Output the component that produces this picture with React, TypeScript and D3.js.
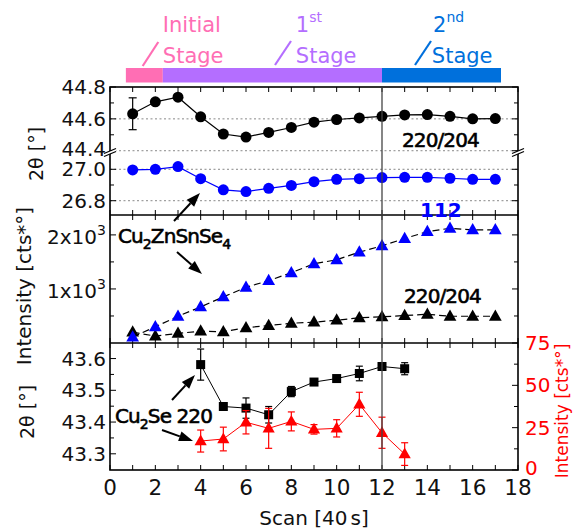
import React from "react";
import * as d3 from "d3";

// Scan index (40 s per scan)
const scans = [1, 2, 3, 4, 5, 6, 7, 8, 9, 10, 11, 12, 13, 14, 15, 16, 17];

// Cu2ZnSnSe4 220/204 reflection position 2θ [°]
const kesterite220TwoTheta = [
  44.632, 44.707, 44.736, 44.613, 44.505, 44.486, 44.515, 44.546, 44.579,
  44.596, 44.606, 44.616, 44.625, 44.627, 44.616, 44.6, 44.602,
];
const kesterite220TwoThetaErr = [
  0.1, 0, 0, 0, 0, 0, 0, 0, 0, 0, 0, 0, 0, 0, 0, 0, 0,
];
// Cu2ZnSnSe4 112 reflection position 2θ [°]
const kesterite112TwoTheta = [
  26.996, 27.0, 27.017, 26.94, 26.869, 26.858, 26.879, 26.897, 26.921,
  26.936, 26.94, 26.947, 26.949, 26.949, 26.943, 26.936, 26.936,
];
// Integrated intensities [cts*°]
const kesterite112Intensity = [
  109, 300, 495, 668, 853, 1030, 1153, 1300, 1466, 1540, 1681, 1797, 1932,
  2061, 2123, 2092, 2092,
];
const kesterite220Intensity = [
  201, 127, 177, 219, 208, 282, 324, 365, 385, 422, 466, 484, 508, 532, 495,
  495, 495,
];

// Cu2Se 220 reflection
const cu2seScans = [4, 5, 6, 7, 8, 9, 10, 11, 12, 13];
const cu2seTwoTheta = [
  43.581, 43.449, 43.444, 43.423, 43.496, 43.526, 43.537, 43.553, 43.575,
  43.568,
];
const cu2seTwoThetaErr = [
  0.049, 0.008, 0.032, 0.026, 0.016, 0.008, 0.01, 0.023, 0.01, 0.019,
];
const cu2seIntensity = [17.1, 18.3, 28.2, 24.6, 28.7, 24.0, 24.6, 38.8, 22.0, 9.4];
const cu2seIntensityErr = [6.5, 7.0, 6.9, 11.8, 5.6, 2.8, 5.1, 7.1, 9.2, 6.7];

// Growth stages (in scan units)
const stageNames = ["Initial", "1st", "2nd"];
const stageStart = [0.7, 2.33, 12];
const stageEnd = [2.33, 12, 17.25];
const stageColors = ["#ff6eb4", "#b46eff", "#0070dc"];
const stageMarker = 12;

// Tick values / labels
const xTickLabels = ["0", "2", "4", "6", "8", "10", "12", "14", "16", "18"];
const upMajor = [44.4, 44.6, 44.8];
const upMinor = [44.5, 44.7];
const lowMajor = [26.8, 27.0];
const lowMinor = [26.9];
const intMajor = [1000, 2000];
const intMinor = [500, 1500];
const cuMajor = [43.3, 43.4, 43.5, 43.6];
const cuMinor = [43.35, 43.45, 43.55];
const cuIntMajor = [0, 25, 50, 75];
const cuIntMinor = [12.5, 37.5, 62.5];

const FONT = "DejaVu Sans";
const W = 576;
const H = 529;
const X0 = 110;
const X1 = 518;
const TOP = 87;
const MID1 = 215;
const MID2 = 343;
const BOT = 470;
const BREAK_Y = 152;

const x = d3.scaleLinear().domain([0, 18]).range([X0, X1]);
const yUp = d3.scaleLinear().domain([44.392, 44.8]).range([BREAK_Y, TOP]);
const yLow = d3.scaleLinear().domain([26.709, 27.11]).range([MID1, BREAK_Y]);
const yInt = d3.scaleLinear().domain([0, 2368]).range([MID2, MID1]);
const yCuTh = d3.scaleLinear().domain([43.249, 43.649]).range([BOT, MID2]);
const yCuInt = d3.scaleLinear().domain([0, 75]).range([BOT, MID2]);

const tri = (cx: number, cy: number, s: number) =>
  `M${cx},${cy - s * 0.62}L${cx + s * 0.58},${cy + s * 0.4}L${cx - s * 0.58},${cy + s * 0.4}Z`;

function Arrow({ x1, y1, x2, y2 }: { x1: number; y1: number; x2: number; y2: number }) {
  const a = Math.atan2(y2 - y1, x2 - x1);
  const L = 14;
  const hw = 5;
  const bx = x2 - L * Math.cos(a);
  const by = y2 - L * Math.sin(a);
  const px = -Math.sin(a) * hw;
  const py = Math.cos(a) * hw;
  return (
    <g>
      <line x1={x1} y1={y1} x2={bx} y2={by} stroke="#000" strokeWidth={2} />
      <path d={`M${x2},${y2}L${bx + px},${by + py}L${bx - px},${by - py}Z`} fill="#000" />
    </g>
  );
}

function BreakMark({ cx, cy }: { cx: number; cy: number }) {
  return (
    <g>
      <path d={`M${cx - 6},${cy + 1.5}L${cx + 6},${cy - 3.5}L${cx + 6},${cy - 0.5}L${cx - 6},${cy + 4.5}Z`} fill="#fff" />
      <line x1={cx - 6} y1={cy + 1.5} x2={cx + 6} y2={cy - 3.5} stroke="#000" strokeWidth={1.2} />
      <line x1={cx - 6} y1={cy + 4.5} x2={cx + 6} y2={cy - 0.5} stroke="#000" strokeWidth={1.2} />
    </g>
  );
}

export default function App() {
  const xMinor = x.ticks(18);
  const xMajor = x.ticks(9);

  const line220 = d3
    .line<number>()
    .x((_, i) => x(scans[i]))
    .y((d) => yUp(d));
  const line112 = d3
    .line<number>()
    .x((_, i) => x(scans[i]))
    .y((d) => yLow(d));
  const lineInt = d3
    .line<number>()
    .x((_, i) => x(scans[i]))
    .y((d) => yInt(d));
  const lineCuTh = d3
    .line<number>()
    .x((_, i) => x(cu2seScans[i]))
    .y((d) => yCuTh(d));
  const lineCuInt = d3
    .line<number>()
    .x((_, i) => x(cu2seScans[i]))
    .y((d) => yCuInt(d));

  const tickLen = 5;
  const yTicksH = (ys: number[], major: boolean[]) =>
    ys.map((yy, i) => (
      <g key={i}>
        <line x1={X0} x2={X0 + (major[i] ? 6 : 4)} y1={yy} y2={yy} stroke="#000" strokeWidth={1} />
        <line x1={X1} x2={X1 - (major[i] ? 6 : 4)} y1={yy} y2={yy} stroke="#000" strokeWidth={1} />
      </g>
    ));

  const labelStyle = { fontFamily: FONT, fontSize: 20, fill: "#111" } as const;

  return (
    <svg
      width={W}
      height={H}
      viewBox={`0 0 ${W} ${H}`}
      style={{ position: "absolute", left: 0, top: 0, background: "#fff" }}
    >
      {/* growth stage bar */}
      {stageNames.map((n, i) => (
        <rect
          key={n}
          x={x(stageStart[i])}
          y={68}
          width={x(stageEnd[i]) - x(stageStart[i])}
          height={14.5}
          fill={stageColors[i]}
        />
      ))}
      <g fontFamily={FONT} fontSize={21}>
        <text x={x(2.33)} y={32} fill={stageColors[0]}>Initial</text>
        <text x={x(2.33)} y={63} fill={stageColors[0]}>Stage</text>
        <line x1={142.7} y1={66} x2={158.3} y2={42} stroke={stageColors[0]} strokeWidth={2.2} />
        <text x={x(8.2)} y={32} fill={stageColors[1]}>
          1<tspan fontSize={14} dy={-10}>st</tspan>
        </text>
        <text x={x(8.2)} y={63} fill={stageColors[1]}>Stage</text>
        <line x1={275} y1={65} x2={291} y2={41} stroke={stageColors[1]} strokeWidth={2.2} />
        <text x={x(14.25)} y={32} fill={stageColors[2]}>
          2<tspan fontSize={14} dy={-10}>nd</tspan>
        </text>
        <text x={x(14.2)} y={63} fill={stageColors[2]}>Stage</text>
        <line x1={415} y1={65} x2={431} y2={41} stroke={stageColors[2]} strokeWidth={2.2} />
      </g>

      {/* dotted grid in the 2θ panel */}
      {[...upMajor.filter((v) => v < 44.8).map((v) => yUp(v)), ...lowMajor.map((v) => yLow(v))].map((yy, i) => (
        <line key={i} x1={X0} x2={X1} y1={yy} y2={yy} stroke="#888" strokeWidth={1} strokeDasharray="2,2.5" />
      ))}

      {/* x ticks on each panel edge */}
      {xMinor.map((t) => {
        const xx = x(t);
        return (
          <g key={t} stroke="#000" strokeWidth={1}>
            <line x1={xx} x2={xx} y1={TOP} y2={TOP + tickLen} />
            <line x1={xx} x2={xx} y1={MID1} y2={MID1 - tickLen} />
            <line x1={xx} x2={xx} y1={MID1} y2={MID1 + tickLen} />
            <line x1={xx} x2={xx} y1={MID2} y2={MID2 - tickLen} />
            <line x1={xx} x2={xx} y1={MID2} y2={MID2 + tickLen} />
            <line x1={xx} x2={xx} y1={BOT} y2={BOT - tickLen} />
          </g>
        );
      })}

      {/* y ticks */}
      {yTicksH(
        [...upMajor, ...upMinor].map((v) => yUp(v)),
        [...upMajor.map(() => true), ...upMinor.map(() => false)]
      )}
      {yTicksH(
        [...lowMajor, ...lowMinor].map((v) => yLow(v)),
        [...lowMajor.map(() => true), ...lowMinor.map(() => false)]
      )}
      {yTicksH(
        [...intMajor, ...intMinor].map((v) => yInt(v)),
        [...intMajor.map(() => true), ...intMinor.map(() => false)]
      )}
      {[...cuMajor, ...cuMinor].map((v, i) => (
        <line key={"cl" + i} x1={X0} x2={X0 + (i < cuMajor.length ? 6 : 4)} y1={yCuTh(v)} y2={yCuTh(v)} stroke="#000" />
      ))}
      {[...cuIntMajor, ...cuIntMinor].map((v, i) => (
        <line key={"cr" + i} x1={X1} x2={X1 - (i < cuIntMajor.length ? 6 : 4)} y1={yCuInt(v)} y2={yCuInt(v)} stroke="#000" />
      ))}

      {/* frames */}
      <g fill="none" stroke="#000" strokeWidth={1.6}>
        <rect x={X0} y={TOP} width={X1 - X0} height={BOT - TOP} />
        <line x1={X0} x2={X1} y1={MID1} y2={MID1} />
        <line x1={X0} x2={X1} y1={MID2} y2={MID2} />
      </g>
      <BreakMark cx={X0} cy={BREAK_Y} />
      <BreakMark cx={X1} cy={BREAK_Y} />

      {/* 2θ panel series */}
      <path d={line220(kesterite220TwoTheta) ?? ""} fill="none" stroke="#000" strokeWidth={1.2} />
      {kesterite220TwoTheta.map((v, i) =>
        kesterite220TwoThetaErr[i] > 0 ? (
          <g key={"e" + i} stroke="#000" strokeWidth={1.2}>
            <line x1={x(scans[i])} x2={x(scans[i])} y1={yUp(v - kesterite220TwoThetaErr[i])} y2={yUp(v + kesterite220TwoThetaErr[i])} />
            <line x1={x(scans[i]) - 4} x2={x(scans[i]) + 4} y1={yUp(v - kesterite220TwoThetaErr[i])} y2={yUp(v - kesterite220TwoThetaErr[i])} />
            <line x1={x(scans[i]) - 4} x2={x(scans[i]) + 4} y1={yUp(v + kesterite220TwoThetaErr[i])} y2={yUp(v + kesterite220TwoThetaErr[i])} />
          </g>
        ) : null
      )}
      {kesterite220TwoTheta.map((v, i) => (
        <circle key={"c" + i} cx={x(scans[i])} cy={yUp(v)} r={5.5} fill="#000" />
      ))}
      <path d={line112(kesterite112TwoTheta) ?? ""} fill="none" stroke="#0000ff" strokeWidth={1.2} />
      {kesterite112TwoTheta.map((v, i) => (
        <circle key={"b" + i} cx={x(scans[i])} cy={yLow(v)} r={5.5} fill="#0000ff" />
      ))}

      {/* intensity panel series */}
      <path d={lineInt(kesterite112Intensity) ?? ""} fill="none" stroke="#000" strokeWidth={1.2} strokeDasharray="7,4" />
      <path d={lineInt(kesterite220Intensity) ?? ""} fill="none" stroke="#000" strokeWidth={1.2} strokeDasharray="7,4" />
      {kesterite220Intensity.map((v, i) => (
        <path key={"k" + i} d={tri(x(scans[i]), yInt(v), 11)} fill="#000" />
      ))}
      {kesterite112Intensity.map((v, i) => (
        <path key={"t" + i} d={tri(x(scans[i]), yInt(v), 11)} fill="#0000ff" />
      ))}

      {/* Cu2Se panel series */}
      <path d={lineCuTh(cu2seTwoTheta) ?? ""} fill="none" stroke="#000" strokeWidth={1} />
      <path d={lineCuInt(cu2seIntensity) ?? ""} fill="none" stroke="#ff0000" strokeWidth={1} />
      {cu2seTwoTheta.map((v, i) => {
        const xx = x(cu2seScans[i]);
        const lo = yCuTh(v - cu2seTwoThetaErr[i]);
        const hi = yCuTh(v + cu2seTwoThetaErr[i]);
        return (
          <g key={"s" + i} stroke="#000" strokeWidth={1.2}>
            <line x1={xx} x2={xx} y1={lo} y2={hi} />
            <line x1={xx - 3.5} x2={xx + 3.5} y1={lo} y2={lo} />
            <line x1={xx - 3.5} x2={xx + 3.5} y1={hi} y2={hi} />
            <rect x={xx - 4.5} y={yCuTh(v) - 4.5} width={9} height={9} fill="#000" stroke="none" />
          </g>
        );
      })}
      {cu2seIntensity.map((v, i) => {
        const xx = x(cu2seScans[i]);
        const lo = yCuInt(v - cu2seIntensityErr[i]);
        const hi = yCuInt(v + cu2seIntensityErr[i]);
        return (
          <g key={"r" + i} stroke="#ff0000" strokeWidth={1.2}>
            <line x1={xx} x2={xx} y1={lo} y2={hi} />
            <line x1={xx - 3.5} x2={xx + 3.5} y1={lo} y2={lo} />
            <line x1={xx - 3.5} x2={xx + 3.5} y1={hi} y2={hi} />
            <path d={tri(xx, yCuInt(v), 10.5)} fill="#ff0000" stroke="none" />
          </g>
        );
      })}

      {/* stage transition marker */}
      <line x1={x(stageMarker)} x2={x(stageMarker)} y1={TOP} y2={BOT} stroke="#444" strokeWidth={1.3} />

      {/* tick labels */}
      <g {...labelStyle} textAnchor="end">
        {upMajor.map((v) => (
          <text key={v} x={106} y={yUp(v) + (v === 44.4 ? 5.5 : 7)}>{v.toFixed(1)}</text>
        ))}
        {lowMajor.map((v) => (
          <text key={v} x={106} y={yLow(v) + 7}>{v.toFixed(1)}</text>
        ))}
        {intMajor.map((v) => (
          <text key={v} x={106} y={yInt(v) + 9}>
            {`${v / 1000}x10`}
            <tspan fontSize={14} dy={-9}>3</tspan>
          </text>
        ))}
        {cuMajor.map((v) => (
          <text key={v} x={106} y={yCuTh(v) + 7}>{v.toFixed(1)}</text>
        ))}
      </g>
      <g {...labelStyle} fill="#ff0000" textAnchor="start">
        {cuIntMajor.map((v) => (
          <text key={v} x={525} y={yCuInt(v) + (v === 0 ? 5 : 7)}>{v}</text>
        ))}
      </g>
      <g {...labelStyle} fontSize={21.5} textAnchor="middle">
        {xMajor.map((t, i) => (
          <text key={t} x={x(t)} y={495}>{xTickLabels[i]}</text>
        ))}
      </g>

      {/* axis titles */}
      <text {...labelStyle} x={(X0 + X1) / 2} y={525} textAnchor="middle" fontSize={20}>
        Scan [40<tspan dx={3}>s]</tspan>
      </text>
      <text {...labelStyle} fontSize={19} textAnchor="middle" transform={`translate(43,154) rotate(-90)`}>
        2θ [°]
      </text>
      <text {...labelStyle} fontSize={20} textAnchor="middle" transform={`translate(31,286) rotate(-90)`}>
        Intensity [cts*°]
      </text>
      <text {...labelStyle} fontSize={19} textAnchor="middle" transform={`translate(34,412) rotate(-90)`}>
        2θ [°]
      </text>
      <text {...labelStyle} fill="#ff0000" fontSize={17} textAnchor="middle" transform={`translate(568,411) rotate(-90)`}>
        Intensity [cts*°]
      </text>

      {/* annotations */}
      <g fontFamily={FONT} fontSize={20} letterSpacing={-0.9} stroke="currentColor" strokeWidth={0.6}>
        <text x={402} y={147} fill="#000" color="#000">220/204</text>
        <text x={404} y={303} fill="#000" color="#000">220/204</text>
        <text x={420} y={217} fill="#0000ff" color="#0000ff" fontWeight="bold" letterSpacing={0} strokeWidth={0}>112</text>
        <text x={118} y={243} fill="#000" color="#000">
          Cu<tspan fontSize={14} dy={6}>2</tspan>
          <tspan dy={-6}>ZnSnSe</tspan>
          <tspan fontSize={14} dy={6}>4</tspan>
        </text>
        <text x={115} y={423} fill="#000" color="#000">
          Cu<tspan fontSize={14} dy={6}>2</tspan>
          <tspan dy={-6}>Se 220</tspan>
        </text>
      </g>
      <Arrow x1={174} y1={221} x2={200} y2={193} />
      <Arrow x1={177} y1={252} x2={202} y2={274} />
      <Arrow x1={172} y1={400} x2={195} y2={375} />
      <Arrow x1={162} y1={430} x2={193} y2={441} />
    </svg>
  );
}
